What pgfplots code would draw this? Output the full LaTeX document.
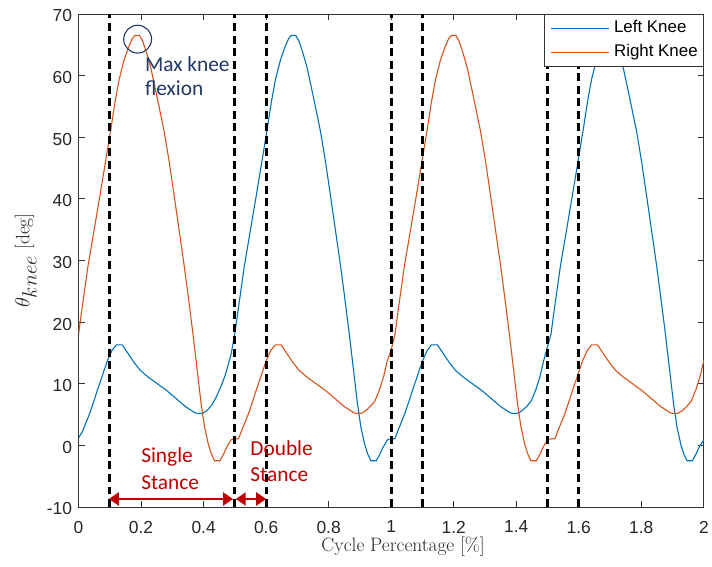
\documentclass[border=0pt]{standalone}
\usepackage{fontspec}
\usepackage{pgfplots}
\pgfplotsset{compat=1.18}
\usetikzlibrary{arrows.meta}
\newfontfamily\arialf{Liberation Sans}
\newfontfamily\calib{Carlito}
\definecolor{mblue}{rgb}{0,0.447,0.741}
\definecolor{morange}{rgb}{0.85,0.325,0.098}
\definecolor{navyann}{RGB}{31,56,100}
\definecolor{redann}{RGB}{192,0,0}
\begin{document}
\begin{tikzpicture}
\begin{axis}[
  name=ax,
  scale only axis, width=629pt, height=496pt,
  xmin=0, xmax=2, ymin=-10, ymax=70,
  xtick={0,0.2,0.4,0.6,0.8,1,1.2,1.4,1.6,1.8,2},
  ytick={-10,0,10,20,30,40,50,60,70},
  tick align=inside, major tick length=6pt,
  axis line style={black!80, line width=0.8pt},
  tick style={black!80, line width=0.8pt},
  /pgf/number format/assume math mode=true,
  tick label style={font=\arialf\fontsize{17.5}{17.5}\selectfont, text=black!85},
  xticklabel style={yshift=-10.5pt},
  yticklabel style={xshift=-3pt, yshift=-2pt},
  xlabel={Cycle Percentage [\%]},
  ylabel={$\theta_{\textstyle knee}$\hspace{6pt}[deg]},
  label style={font=\fontsize{19.5}{19.5}\selectfont, text=black!85},
  xlabel style={at={(axis description cs:0.5,0)}, anchor=base, yshift=-45pt, xshift=12pt},
  ylabel style={at={(axis description cs:0,0.5)}, anchor=center, rotate=0, yshift=53pt},
  legend style={at={(1,1)}, anchor=north east, font=\arialf\fontsize{17}{17}\selectfont,
    draw=black!80, fill=white, legend cell align=left,
    inner xsep=6pt, inner ysep=6pt, row sep=7.8pt, column sep=5pt,
    nodes={inner sep=0pt, text height=12.5pt, text depth=4pt}},
  legend image code/.code={\draw[mark repeat=2,mark phase=2,#1] plot coordinates {(5pt,0pt) (34pt,0pt) (63pt,0pt)};},
]
\addplot[mblue, line width=1.1pt] coordinates {
(0.000,1.2)(0.012,2.2)(0.036,5.2)(0.062,9.2)(0.092,13.7)(0.107,15.4)(0.121,16.3)(0.140,16.3)(0.157,15.0)(0.177,13.5)(0.197,12.2)(0.222,11.1)(0.252,10.0)(0.282,8.9)(0.312,7.6)(0.342,6.3)(0.372,5.3)(0.380,5.2)(0.397,5.2)(0.410,5.6)(0.427,6.6)(0.440,7.8)(0.455,9.5)(0.470,11.5)(0.488,14.8)
(0.500,18.2)(0.510,21.8)(0.520,25.4)(0.530,29.0)(0.545,33.5)(0.567,40.1)(0.585,45.6)(0.604,51.5)(0.617,55.8)(0.630,59.4)(0.645,62.4)(0.660,64.6)(0.672,66.0)(0.680,66.5)(0.695,66.5)(0.705,65.6)(0.718,63.6)(0.731,61.3)(0.750,56.8)(0.774,50.9)(0.790,46.0)(0.805,40.8)(0.820,35.5)(0.837,29.5)(0.850,24.5)(0.865,18.5)(0.880,12.0)(0.892,6.8)(0.903,3.0)(0.915,0.2)(0.925,-1.4)(0.935,-2.5)(0.952,-2.5)(0.962,-1.6)(0.975,-0.2)(0.988,0.9)(0.992,1.0)(1.012,1.1)(1.020,2.2)(1.044,5.2)(1.070,9.2)(1.100,13.7)(1.115,15.4)(1.129,16.3)(1.148,16.3)(1.165,15.0)(1.185,13.5)(1.205,12.2)(1.230,11.1)(1.260,10.0)(1.290,8.9)(1.320,7.6)(1.350,6.3)(1.380,5.3)(1.388,5.2)(1.405,5.2)(1.418,5.6)(1.433,6.3)(1.448,7.2)(1.463,9.1)(1.476,11.2)(1.488,13.8)(1.500,16.0)
(1.511,18.0)(1.521,21.8)(1.531,25.4)(1.541,29.0)(1.556,33.5)(1.578,40.1)(1.596,45.6)(1.615,51.5)(1.628,55.8)(1.641,59.4)(1.656,62.4)(1.671,64.6)(1.683,66.0)(1.691,66.5)(1.706,66.5)(1.716,65.6)(1.729,63.6)(1.742,61.3)(1.761,56.8)(1.785,50.9)(1.801,46.0)(1.816,40.8)(1.831,35.5)(1.848,29.5)(1.861,24.5)(1.876,18.5)(1.891,12.0)(1.903,6.8)(1.914,3.0)(1.926,0.2)(1.936,-1.4)(1.946,-2.5)(1.963,-2.5)(1.973,-1.6)(1.986,-0.2)(2.000,0.9)
};
\addlegendentry{Left Knee}
\addplot[morange, line width=1.1pt] coordinates {
(0.000,18.0)(0.010,21.8)(0.020,25.4)(0.030,29.0)(0.045,33.5)(0.067,40.1)(0.085,45.6)(0.104,51.5)(0.117,55.8)(0.130,59.4)(0.145,62.4)(0.160,64.6)(0.172,66.0)(0.180,66.5)(0.195,66.5)(0.205,65.6)(0.218,63.6)(0.231,61.3)(0.250,56.8)(0.274,50.9)(0.290,46.0)(0.305,40.8)(0.320,35.5)(0.337,29.5)(0.350,24.5)(0.365,18.5)(0.380,12.0)(0.392,6.8)(0.403,3.0)(0.415,0.2)(0.425,-1.4)(0.435,-2.5)(0.452,-2.5)(0.462,-1.6)(0.475,-0.2)(0.488,0.9)(0.492,1.0)(0.512,1.1)(0.520,2.2)(0.544,5.2)(0.570,9.2)(0.600,13.7)(0.615,15.4)(0.629,16.3)(0.648,16.3)(0.665,15.0)(0.685,13.5)(0.705,12.2)(0.730,11.1)(0.760,10.0)(0.790,8.9)(0.820,7.6)(0.850,6.3)(0.880,5.3)(0.888,5.2)(0.905,5.2)(0.918,5.6)(0.933,6.3)(0.948,7.2)(0.963,9.1)(0.976,11.2)(0.988,13.8)(1.000,15.5)
(1.012,18.0)(1.022,21.8)(1.032,25.4)(1.042,29.0)(1.057,33.5)(1.079,40.1)(1.097,45.6)(1.116,51.5)(1.129,55.8)(1.142,59.4)(1.157,62.4)(1.172,64.6)(1.184,66.0)(1.192,66.5)(1.207,66.5)(1.217,65.6)(1.230,63.6)(1.243,61.3)(1.262,56.8)(1.286,50.9)(1.302,46.0)(1.317,40.8)(1.332,35.5)(1.349,29.5)(1.362,24.5)(1.377,18.5)(1.392,12.0)(1.404,6.8)(1.415,3.0)(1.427,0.2)(1.437,-1.4)(1.447,-2.5)(1.464,-2.5)(1.474,-1.6)(1.487,-0.2)(1.500,0.9)(1.504,1.0)(1.524,1.1)(1.532,2.2)(1.556,5.2)(1.582,9.2)(1.612,13.7)(1.627,15.4)(1.641,16.3)(1.660,16.3)(1.677,15.0)(1.697,13.5)(1.717,12.2)(1.742,11.1)(1.772,10.0)(1.802,8.9)(1.832,7.6)(1.862,6.3)(1.892,5.3)(1.900,5.2)(1.917,5.2)(1.930,5.6)(1.945,6.3)(1.960,7.2)(1.975,9.1)(1.988,11.2)(2.000,13.8)
};
\addlegendentry{Right Knee}
\pgfplotsinvokeforeach{0.1,0.5,0.6,1.0,1.1,1.5,1.6}{
  \addplot[forget plot, black, line width=2.8pt, dash pattern=on 8pt off 4.6pt] coordinates {(#1,-10)(#1,70)};
}
\draw[navyann, line width=1.1pt] (axis cs:0.189,65.9) circle[radius=14pt];
\node[anchor=base west, inner sep=0pt, text=navyann, font=\calib\fontsize{21.5}{22}\selectfont] at (axis cs:0.212,60.7) {Max knee};
\node[anchor=base west, inner sep=0pt, text=navyann, font=\calib\fontsize{21.5}{22}\selectfont] at (axis cs:0.212,56.7) {flexion};
\node[anchor=base west, inner sep=0pt, text=redann, font=\calib\fontsize{21.5}{22}\selectfont] at (axis cs:0.200,-2.8) {Single};
\node[anchor=base west, inner sep=0pt, text=redann, font=\calib\fontsize{21.5}{22}\selectfont] at (axis cs:0.200,-7.1) {Stance};
\node[anchor=base west, inner sep=0pt, text=redann, font=\calib\fontsize{21.5}{22}\selectfont] at (axis cs:0.549,-1.7) {Double};
\node[anchor=base west, inner sep=0pt, text=redann, font=\calib\fontsize{21.5}{22}\selectfont] at (axis cs:0.549,-5.9) {Stance};
\draw[redann, line width=3pt, {Triangle[length=10pt,width=13pt]}-{Triangle[length=10pt,width=13pt]}] (axis cs:0.097,-8.7) -- (axis cs:0.494,-8.7);
\draw[redann, line width=3pt, {Triangle[length=10pt,width=13pt]}-{Triangle[length=10pt,width=13pt]}] (axis cs:0.503,-8.7) -- (axis cs:0.600,-8.7);
\end{axis}
\path ([xshift=-79pt,yshift=-60pt]ax.south west) rectangle ([xshift=4pt,yshift=14pt]ax.north east);
\end{tikzpicture}
\end{document}
